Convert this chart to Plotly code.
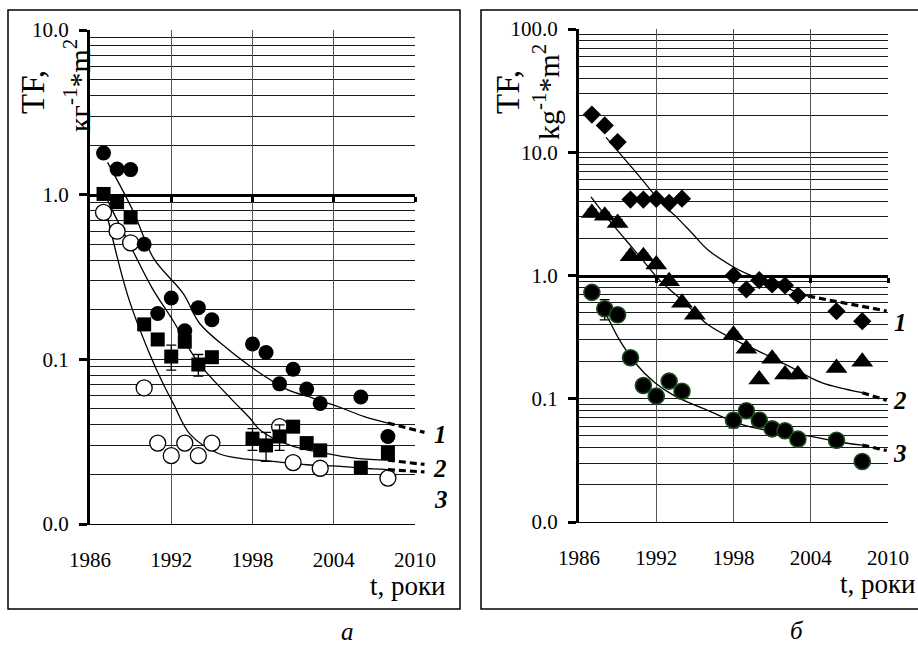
import plotly.graph_objects as go

W, H = 918, 647
FONT = "Liberation Serif"

# ---------------- data: panel a ----------------
a_circ_x = [1987, 1988, 1989, 1990, 1991, 1992, 1993, 1994, 1995, 1998, 1999, 2000, 2001, 2002, 2003, 2006, 2008]
a_circ_y = [1.79, 1.43, 1.42, 0.50, 0.19, 0.236, 0.149, 0.206, 0.174, 0.124, 0.110, 0.071, 0.087, 0.066, 0.054, 0.059, 0.034]

a_sq_x = [1987, 1988, 1989, 1990, 1991, 1992, 1993, 1994, 1995, 1998, 1999, 2000, 2001, 2002, 2003, 2006, 2008]
a_sq_y = [1.01, 0.90, 0.727, 0.163, 0.132, 0.104, 0.128, 0.093, 0.103, 0.033, 0.030, 0.034, 0.039, 0.031, 0.028, 0.022, 0.027]
a_sq_err = [0, 0, 0, 0, 0, 0.018, 0.01, 0.014, 0, 0.005, 0.006, 0.006, 0.003, 0, 0, 0, 0]

a_open_x = [1987, 1988, 1989, 1990, 1991, 1992, 1993, 1994, 1995, 2000, 2001, 2003, 2008]
a_open_y = [0.78, 0.60, 0.51, 0.067, 0.031, 0.026, 0.031, 0.026, 0.031, 0.039, 0.0236, 0.0218, 0.019]
a_open_err = [0.05, 0.04, 0, 0.003, 0.0015, 0.0015, 0.0015, 0.0015, 0, 0.002, 0, 0, 0]

# trend curves
a_t1_x = [1987.3, 1989.2, 1990.7, 1992.9, 1994.1, 1996.2, 1997.5, 1998.6, 2000.5, 2002.5, 2004.5, 2006.2, 2008.0]
a_t1_y = [1.57, 0.79, 0.41, 0.25, 0.165, 0.115, 0.095, 0.082, 0.066, 0.058, 0.051, 0.045, 0.041]
a_t1d_x = [2008.0, 2010.7]
a_t1d_y = [0.041, 0.036]

a_t2_x = [1987.0, 1987.6, 1989.2, 1990.6, 1992.15, 1993.9, 1996.3, 1997.8, 1998.6, 2000.8, 2003.2, 2005.7, 2008.0]
a_t2_y = [1.05, 0.82, 0.45, 0.27, 0.171, 0.098, 0.059, 0.044, 0.037, 0.030, 0.027, 0.025, 0.0244]
a_t2d_x = [2008.0, 2010.7]
a_t2d_y = [0.0244, 0.023]

a_t3_x = [1987.2, 1988.8, 1990.4, 1991.4, 1992.15, 1993.4, 1995.4, 1997.1, 1999.5, 2002.0, 2004.5, 2006.9, 2008.0]
a_t3_y = [0.79, 0.242, 0.108, 0.071, 0.054, 0.035, 0.027, 0.025, 0.024, 0.0229, 0.0224, 0.0216, 0.0214]
a_t3d_x = [2008.0, 2010.7]
a_t3d_y = [0.0214, 0.0207]

# ---------------- data: panel b ----------------
b_dia_x = [1987, 1988, 1989, 1990, 1991, 1992, 1993, 1994, 1998, 1999, 2000, 2001, 2002, 2003, 2006, 2008]
b_dia_y = [20.2, 16.5, 12.1, 4.13, 4.13, 4.18, 3.89, 4.2, 1.0, 0.77, 0.916, 0.845, 0.83, 0.688, 0.513, 0.426]

b_tri_x = [1987, 1988, 1989, 1990, 1991, 1992, 1993, 1994, 1995, 1998, 1999, 2000, 2001, 2002, 2003, 2006, 2008]
b_tri_y = [3.22, 3.06, 2.67, 1.43, 1.43, 1.23, 0.90, 0.60, 0.48, 0.33, 0.255, 0.143, 0.211, 0.157, 0.157, 0.178, 0.20]
b_tri_err = [0.22, 0.2, 0.18, 0.09, 0.09, 0.08, 0.06, 0, 0, 0.02, 0.017, 0, 0.014, 0, 0, 0, 0]

b_circ_x = [1987, 1988, 1989, 1990, 1991, 1992, 1993, 1994, 1998, 1999, 2000, 2001, 2002, 2003, 2006, 2008]
b_circ_y = [0.73, 0.537, 0.48, 0.215, 0.128, 0.105, 0.139, 0.115, 0.067, 0.080, 0.067, 0.057, 0.055, 0.047, 0.046, 0.031]
b_circ_err = [0, 0.1, 0, 0, 0, 0, 0, 0, 0.009, 0, 0, 0, 0, 0, 0, 0]

b_t1_x = [1988.1, 1989.8, 1990.9, 1992.4, 1993.5, 1994.75, 1996.0, 1997.9, 1999.15, 2000.2, 2002.3, 2003.8]
b_t1_y = [13.2, 8.2, 6.0, 3.88, 3.03, 2.22, 1.62, 1.19, 1.02, 0.93, 0.78, 0.68]
b_t1d_x = [2003.8, 2009.9]
b_t1d_y = [0.68, 0.515]

b_t2_x = [1986.93, 1988.3, 1989.6, 1990.9, 1992.2, 1993.5, 1994.75, 1996.0, 1998.1, 2000.2, 2002.3, 2004.85, 2008.0]
b_t2_y = [4.35, 2.84, 1.96, 1.35, 0.93, 0.70, 0.53, 0.40, 0.30, 0.236, 0.184, 0.135, 0.112]
b_t2d_x = [2008.0, 2009.9]
b_t2d_y = [0.112, 0.097]

b_t3_x = [1987.7, 1988.3, 1989.05, 1990.35, 1991.9, 1993.46, 1996.04, 1998.6, 2001.2, 2003.8, 2006.0, 2008.0]
b_t3_y = [0.55, 0.44, 0.312, 0.196, 0.135, 0.105, 0.080, 0.062, 0.054, 0.050, 0.045, 0.042]
b_t3d_x = [2008.0, 2009.9]
b_t3d_y = [0.042, 0.038]

x_ticks = [1986, 1992, 1998, 2004, 2010]
a_yticks = [0.01, 0.1, 1, 10]
a_ytext = ["0.0", "0.1", "1.0", "10.0"]
b_yticks = [0.01, 0.1, 1, 10, 100]
b_ytext = ["0.0", "0.1", "1.0", "10.0", "100.0"]


def minor_vals(lo_exp, hi_exp):
    return [m * 10 ** e for e in range(lo_exp, hi_exp) for m in range(2, 10)]


def PX(x):
    return x / W


def PY(y):
    return 1 - y / H


# geometry (pixels)
aL, aR, aT, aB = 90, 415, 30, 524
bL, bR, bT, bB = 579, 888, 29, 522

fig = go.Figure()

solid = dict(color="black", width=1.3)
dashed = dict(color="black", width=3.2, dash="7px,4px")

# --- panel a curves (main axes x/y) ---
for xs, ys in [(a_t1_x, a_t1_y), (a_t2_x, a_t2_y), (a_t3_x, a_t3_y)]:
    fig.add_trace(go.Scatter(x=xs, y=ys, mode="lines", line=dict(shape="spline", **solid),
                             xaxis="x", yaxis="y", showlegend=False, hoverinfo="skip"))
# dashed extensions (slightly wider invisible axes x3/y3 with identical scale)
for xs, ys in [(a_t1d_x, a_t1d_y), (a_t2d_x, a_t2d_y), (a_t3d_x, a_t3d_y)]:
    fig.add_trace(go.Scatter(x=xs, y=ys, mode="lines", line=dashed,
                             xaxis="x3", yaxis="y3", showlegend=False, hoverinfo="skip"))

errstyle = dict(type="data", color="black", thickness=1.3, width=5)

# --- panel a markers (overlay axis x2) ---
fig.add_trace(go.Scatter(x=a_open_x, y=a_open_y, mode="markers",
                         marker=dict(symbol="circle", size=16, color="white", line=dict(color="black", width=1.3)),
                         error_y=dict(array=a_open_err, **errstyle),
                         xaxis="x2", yaxis="y", showlegend=False))
fig.add_trace(go.Scatter(x=a_circ_x, y=a_circ_y, mode="markers",
                         marker=dict(symbol="circle", size=15, color="black"),
                         xaxis="x2", yaxis="y", showlegend=False))
fig.add_trace(go.Scatter(x=a_sq_x, y=a_sq_y, mode="markers",
                         marker=dict(symbol="square", size=14, color="black"),
                         error_y=dict(array=a_sq_err, **errstyle),
                         xaxis="x2", yaxis="y", showlegend=False))

# --- panel b curves (main axes x4/y4) ---
for xs, ys in [(b_t1_x, b_t1_y), (b_t2_x, b_t2_y), (b_t3_x, b_t3_y)]:
    fig.add_trace(go.Scatter(x=xs, y=ys, mode="lines", line=dict(shape="spline", **solid),
                             xaxis="x4", yaxis="y4", showlegend=False, hoverinfo="skip"))
for xs, ys in [(b_t1d_x, b_t1d_y), (b_t2d_x, b_t2d_y), (b_t3d_x, b_t3d_y)]:
    fig.add_trace(go.Scatter(x=xs, y=ys, mode="lines", line=dashed,
                             xaxis="x4", yaxis="y4", showlegend=False, hoverinfo="skip"))

# --- panel b markers (overlay axis x5) ---
fig.add_trace(go.Scatter(x=b_dia_x, y=b_dia_y, mode="markers",
                         marker=dict(symbol="diamond", size=14, color="black"),
                         xaxis="x5", yaxis="y4", showlegend=False))
fig.add_trace(go.Scatter(x=b_tri_x, y=b_tri_y, mode="markers",
                         marker=dict(symbol="triangle-up", size=19, color="black"),
                         error_y=dict(array=b_tri_err, **errstyle),
                         xaxis="x5", yaxis="y4", showlegend=False))
fig.add_trace(go.Scatter(x=b_circ_x, y=b_circ_y, mode="markers",
                         marker=dict(symbol="circle", size=16, color="black", line=dict(color="#1c4a1c", width=1.6)),
                         error_y=dict(array=b_circ_err, **errstyle),
                         xaxis="x5", yaxis="y4", showlegend=False))

tickfont = dict(family=FONT, size=21, color="black")
grid_h = "#1a1a1a"
grid_v = "#555555"


def xaxis_main(domain, anchor):
    return dict(domain=domain, anchor=anchor, range=[1986, 2010], tickmode="array", tickvals=x_ticks,
                ticktext=[str(v) for v in x_ticks], showgrid=True, gridcolor=grid_v, gridwidth=1,
                showline=True, linecolor="black", linewidth=1, ticks="", ticklabelstandoff=17,
                tickfont=tickfont, zeroline=False, fixedrange=True, automargin=False)


def xaxis_overlay(base, pos):
    return dict(overlaying=base, anchor="free", position=pos, range=[1986, 2010], tickmode="array",
                tickvals=x_ticks[1:], showticklabels=False, ticks="outside", ticklen=5, tickwidth=2.5,
                tickcolor="black", showline=True, linecolor="black", linewidth=3.2, showgrid=False,
                zeroline=False, side="bottom", fixedrange=True, automargin=False)


def yaxis_log(domain, rng, vals, text, anchor, lo, hi):
    return dict(domain=domain, type="log", range=rng, tickmode="array", tickvals=vals, ticktext=text,
                showgrid=True, gridcolor=grid_h, gridwidth=1, showline=True, linecolor="black", linewidth=3.2,
                ticks="outside", ticklen=8, tickwidth=3, tickcolor="black", ticklabelstandoff=6,
                tickfont=tickfont, anchor=anchor, zeroline=False, fixedrange=True, automargin=False,
                minor=dict(tickmode="array", tickvals=minor_vals(lo, hi), showgrid=True,
                           gridcolor=grid_h, gridwidth=1, ticks=""))


a_ydom = [PY(aB), PY(aT)]
b_ydom = [PY(bB), PY(bT)]
a_one = PY(aB - (aB - aT) * 2 / 3)
b_one = PY(bB - (bB - bT) / 2)
ext_px = 430
ext_max = 1986 + 24 * (ext_px - aL) / (aR - aL)

fig.update_layout(
    width=W, height=H, autosize=False,
    margin=dict(l=0, r=0, t=0, b=0, pad=0, autoexpand=False),
    paper_bgcolor="white", plot_bgcolor="rgba(0,0,0,0)",
    showlegend=False,
    xaxis=xaxis_main([PX(aL), PX(aR)], "y"),
    yaxis=yaxis_log(a_ydom, [-2, 1], a_yticks, a_ytext, "x", -2, 1),
    xaxis2=xaxis_overlay("x", a_one),
    xaxis3=dict(domain=[PX(aL), PX(ext_px)], range=[1986, ext_max], visible=False, anchor="y3",
                fixedrange=True),
    yaxis3=dict(domain=a_ydom, type="log", range=[-2, 1], visible=False, anchor="x3", showgrid=False,
                fixedrange=True),
    xaxis4=xaxis_main([PX(bL), PX(bR)], "y4"),
    yaxis4=yaxis_log(b_ydom, [-2, 2], b_yticks, b_ytext, "x4", -2, 2),
    xaxis5=xaxis_overlay("x4", b_one),
)

# frames around the two panels
fig.add_shape(type="rect", xref="paper", yref="paper", x0=PX(8), x1=PX(460), y0=PY(609), y1=PY(10),
              line=dict(color="black", width=1.5), fillcolor="rgba(0,0,0,0)", layer="below")
fig.add_shape(type="rect", xref="paper", yref="paper", x0=PX(481), x1=PX(935), y0=PY(609), y1=PY(10),
              line=dict(color="black", width=1.5), fillcolor="rgba(0,0,0,0)", layer="below")


def ann(text, x, y, size, angle=0, xanchor="center", bold=False, italic=False):
    t = text
    if bold:
        t = "<b>" + t + "</b>"
    if italic:
        t = "<i>" + t + "</i>"
    fig.add_annotation(text=t, x=PX(x), y=PY(y), xref="paper", yref="paper", showarrow=False,
                       textangle=angle, xanchor=xanchor, yanchor="middle",
                       font=dict(family=FONT, size=size, color="black"))


# y-axis titles
ann("TF,", 33, 92, 33, angle=-90)
ann("кг<sup>-1</sup>*m<sup>2</sup>", 77, 86, 30, angle=-90)
ann("TF,", 508, 92, 33, angle=-90)
ann("kg<sup>-1</sup>*m<sup>2</sup>", 546, 92, 30, angle=-90)

# x-axis titles
ann("t, роки", 448, 586, 27, xanchor="right")
ann("t, роки", 918, 584, 27, xanchor="right")

# curve labels
for lab, (x, y) in zip(["1", "2", "3"], [(440, 435), (440, 469), (441, 499)]):
    ann(lab, x, y, 25, bold=True, italic=True)
for lab, (x, y) in zip(["1", "2", "3"], [(900, 322), (900, 400), (900, 453)]):
    ann(lab, x, y, 25, bold=True, italic=True)

# panel letters
ann("а", 347, 631, 25, italic=True)
ann("б", 797, 630, 25, italic=True)

fig.write_html("out.html", config={"displayModeBar": False},
               post_script="document.body.style.margin='0px';document.body.style.padding='0px';"
                           "document.body.style.overflow='hidden';")
